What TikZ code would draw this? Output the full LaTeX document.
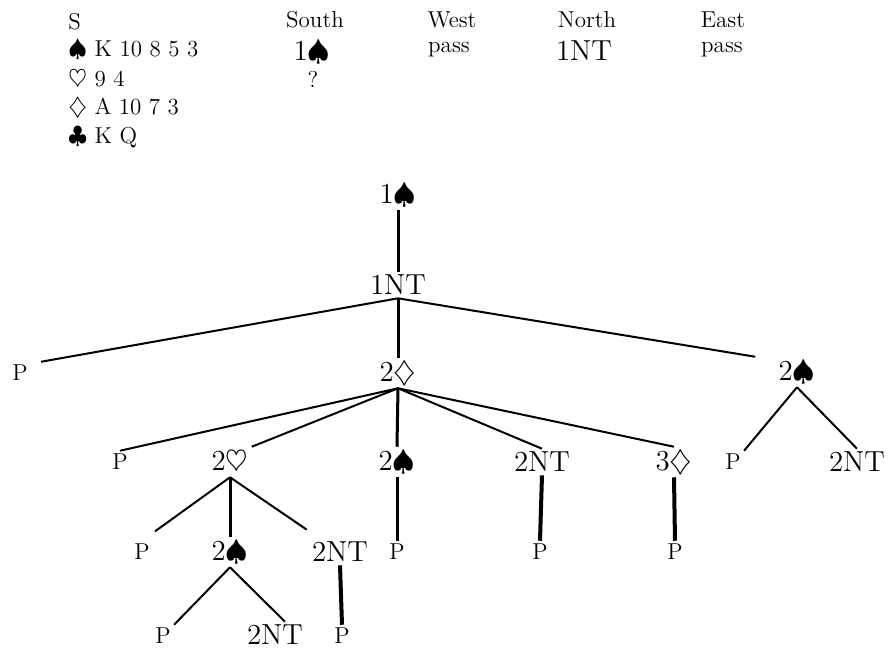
\documentclass[tikz,border=0pt]{standalone}
\usepackage{amsmath}
\usepackage{amssymb}
\usepackage{tikz}

\tikzset{
    bid/.style={font=\fontsize{14.5}{17}\selectfont, inner sep=1.5pt},
    pas/.style={inner sep=1.5pt},
    hand/.style={anchor=west, inner sep=0pt},
    call/.style={inner sep=0pt},
    branch/.style={line width=1pt},
    stem/.style={line width=1.5pt},
    single/.style={line width=2pt},
    gap/.style={shorten >=8pt}
}

\begin{document}
\begin{tikzpicture}[x=0.5pt,y=-0.5pt,font=\fontsize{11.5}{14}\selectfont]
    \useasboundingbox (0,0) rectangle (896,650);
    \node[hand] (hs) at (68,22) {S};
    \node[hand] (hsp) at (68,50) {$\spadesuit$ K 10 8 5 3};
    \node[hand] (hhe) at (68,80) {$\heartsuit$ 9 4};
    \node[hand] (hdi) at (68,108) {$\diamondsuit$ A 10 7 3};
    \node[hand] (hcl) at (68,137) {$\clubsuit$ K Q};
    \node[call] (south) at (315,20) {South};
    \node[bid, call] (aone) at (312,52) {1$\spadesuit$};
    \node[call] (aq) at (313,79) {?};
    \node[call] (west) at (452,20) {West};
    \node[call] (wpass) at (449,50) {pass};
    \node[call] (north) at (587,20) {North};
    \node[bid, call] (nnt) at (584,51) {1NT};
    \node[call] (east) at (723,20) {East};
    \node[call] (epass) at (722,50) {pass};
    \node[bid] (one) at (398,195) {1$\spadesuit$};
    \node[bid] (onent) at (398,285) {1NT};
    \node[pas] (pa) at (20,373) {P};
    \node[bid] (twod) at (398,373) {2$\diamondsuit$};
    \node[bid] (twosr) at (797,372) {2$\spadesuit$};
    \node[pas] (pb) at (120,462) {P};
    \node[bid] (twoh) at (230,462) {2$\heartsuit$};
    \node[bid] (twosm) at (397,462) {2$\spadesuit$};
    \node[bid] (twontm) at (542,462) {2NT};
    \node[bid] (threed) at (674,462) {3$\diamondsuit$};
    \node[pas] (pc) at (733,462) {P};
    \node[bid] (twontr) at (857,462) {2NT};
    \node[pas] (pd) at (142,552) {P};
    \node[bid] (twosl) at (230,552) {2$\spadesuit$};
    \node[bid] (twontl) at (340,552) {2NT};
    \node[pas] (pe) at (397,552) {P};
    \node[pas] (pf) at (540,552) {P};
    \node[pas] (pg) at (675,552) {P};
    \node[pas] (ph) at (163,636) {P};
    \node[bid] (twontll) at (275,635) {2NT};
    \node[pas] (pi) at (342,636) {P};
    \draw[stem] (one.south) -- (onent.north);
    \draw[branch] (onent.south) -- ([xshift=5pt]pa.north east);
    \draw[stem] (onent.south) -- (twod.north);
    \draw[branch] (onent.south) -- ([xshift=-10pt]twosr.north west);
    \draw[branch] (twod.south) -- (pb.north);
    \draw[branch] (twod.south) -- (twoh.north east);
    \draw[stem] (twod.south) -- (twosm.north);
    \draw[branch] (twod.south) -- (twontm.north);
    \draw[branch] (twod.south) -- (threed.north);
    \draw[branch] (twosr.south) -- (pc.north east);
    \draw[branch] (twosr.south) -- (twontr.north);
    \draw[branch, gap] (twoh.south) -- (pd.north);
    \draw[stem] (twoh.south) -- (twosl.north);
    \draw[branch, gap] (twoh.south) -- ([xshift=-10pt]twontl.north);
    \draw[stem] (twosm.south) -- (pe.north);
    \draw[single] (twontm.south) -- (pf.north);
    \draw[single] (threed.south) -- (pg.north);
    \draw[branch] (twosl.south) -- (ph.north east);
    \draw[branch] (twosl.south) -- ([xshift=5pt]twontll.north);
    \draw[single] (twontl.south) -- (pi.north);
\end{tikzpicture}
\end{document}
